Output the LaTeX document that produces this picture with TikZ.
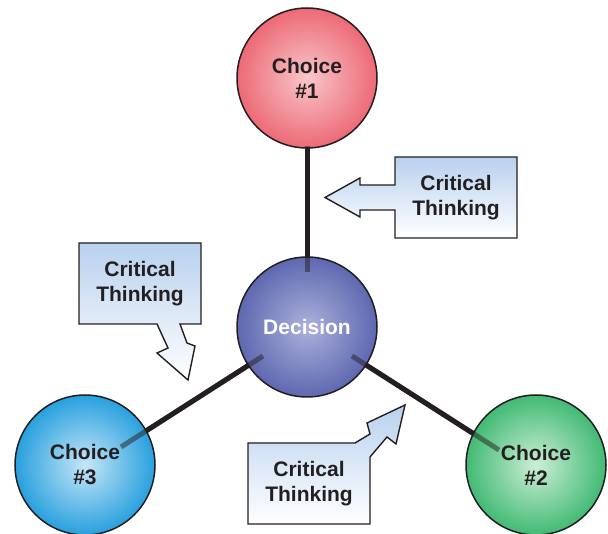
\documentclass[tikz,border=0pt]{standalone}
\usepackage{fontspec}
\setmainfont{Liberation Sans}
\usetikzlibrary{backgrounds}
\definecolor{ink}{RGB}{35,31,32}
\definecolor{redin}{RGB}{249,198,202}
\definecolor{redout}{RGB}{236,106,118}
\definecolor{bluein}{RGB}{172,177,220}
\definecolor{blueout}{RGB}{94,104,176}
\definecolor{cyanin}{RGB}{198,230,248}
\definecolor{cyanout}{RGB}{40,160,222}
\definecolor{greenin}{RGB}{204,238,214}
\definecolor{greenout}{RGB}{66,186,116}
\definecolor{calltop}{RGB}{184,209,238}
\pgfdeclareradialshading{shred}{\pgfpoint{0bp}{0bp}}{color(0bp)=(redin); color(25bp)=(redout); color(50bp)=(redout)}
\pgfdeclareradialshading{shblue}{\pgfpoint{0bp}{0bp}}{color(0bp)=(bluein); color(25bp)=(blueout); color(50bp)=(blueout)}
\pgfdeclareradialshading{shcyan}{\pgfpoint{0bp}{0bp}}{color(0bp)=(cyanin); color(25bp)=(cyanout); color(50bp)=(cyanout)}
\pgfdeclareradialshading{shgreen}{\pgfpoint{0bp}{0bp}}{color(0bp)=(greenin); color(25bp)=(greenout); color(50bp)=(greenout)}
\tikzset{
  circ/.style={circle, draw=ink, line width=1.5pt, minimum size=140pt, inner sep=0pt,
    align=center, font=\bfseries\fontsize{21}{25}\selectfont, text=ink},
  conn/.style={line width=5pt, draw=ink},
  stub/.style={line width=5pt, draw=ink, draw opacity=0.5},
  callout/.style={draw=ink, line width=1.4pt, top color=calltop, bottom color=white, line join=miter},
  calltext/.style={align=center, font=\bfseries\fontsize{21}{25}\selectfont, text=ink, inner sep=0pt}
}
\begin{document}
\begin{tikzpicture}[x=1pt,y=-1pt]
\useasboundingbox (0,0) rectangle (608,534);
% connector end points
\coordinate (s1a) at (307,146); \coordinate (s1b) at (307,272);
\coordinate (s3a) at (263,356); \coordinate (s3b) at (121,447);
\coordinate (s2a) at (352,356); \coordinate (s2b) at (499,450);
\begin{scope}[on background layer]
  \draw[conn] (s1a) -- (s1b);
  \draw[conn] (s3a) -- (s3b);
  \draw[conn] (s2a) -- (s2b);
\end{scope}
% circles
\node[circ, shading=shred] (c1) at (307,78) {Choice\\\#1};
\node[circ, shading=shblue, text=white] (dec) at (307,327) {Decision};
\node[circ, shading=shcyan] (c3) at (85,465) {Choice\\\#3};
\node[circ, shading=shgreen] (c2) at (536,465) {Choice\\\#2};
% translucent parts of the connectors inside the circles
\draw[stub] (s1a) -- (s1b);
\draw[stub] (s3a) -- (s3b);
\draw[stub] (s2a) -- (s2b);
% callouts
\shadedraw[callout] (395,157) -- (517,157) -- (517,238) -- (395,238) -- (395,210) -- (360,210)
  -- (360,217) -- (325,197.5) -- (360,178) -- (360,185) -- (395,185) -- cycle;
\node[calltext] (t1) at (456,197.5) {Critical\\Thinking};
\shadedraw[callout] (79,243) -- (201,243) -- (201,324) -- (180,324) -- (187,343) -- (195,346)
  -- (188,380) -- (157,353) -- (168,348) -- (157,324) -- (79,324) -- cycle;
\node[calltext] (t2) at (140,283.5) {Critical\\Thinking};
\shadedraw[callout] (248,443) -- (355,443) -- (370,434) -- (367,423) -- (405,405) -- (396,444)
  -- (387,437) -- (370,457) -- (370,524) -- (248,524) -- cycle;
\node[calltext] (t3) at (309,483.5) {Critical\\Thinking};
\end{tikzpicture}
\end{document}
